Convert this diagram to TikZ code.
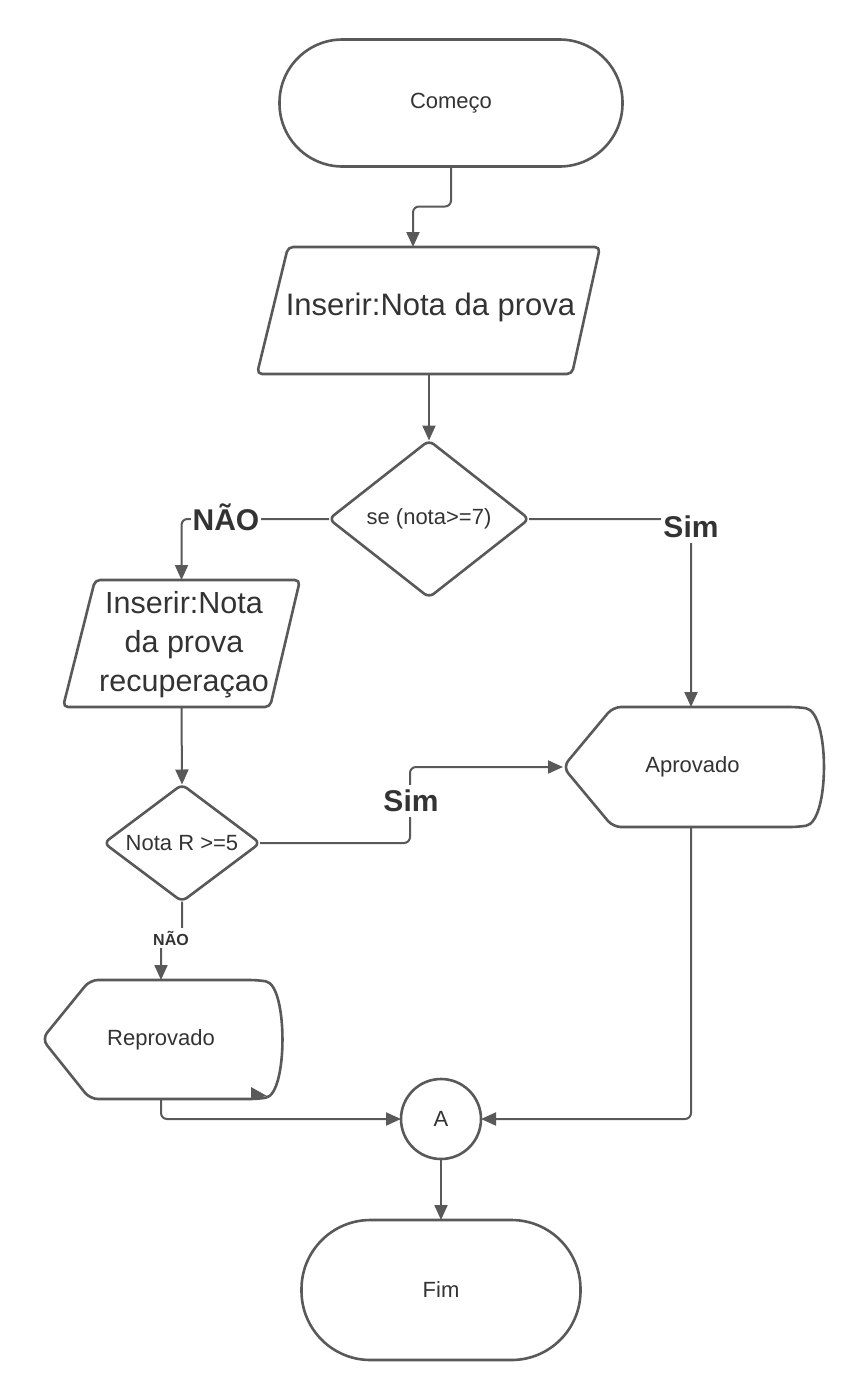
\documentclass[tikz,border=0pt]{standalone}
\usepackage{fontspec}
\setmainfont{Liberation Sans}
\usetikzlibrary{shapes.geometric,arrows.meta}
\definecolor{ln}{HTML}{595959}
\definecolor{tx}{HTML}{333333}
\begin{document}
\begin{tikzpicture}[x=1pt,y=-1pt,
  shp/.style={draw=ln, line width=2.6pt, line join=round},
  box/.style={inner sep=0pt, outer sep=0pt, text=tx, font=\fontsize{22}{26}\selectfont, align=center},
  conn/.style={draw=ln, line width=2pt, rounded corners=6pt},
  arr/.style={conn, -{Triangle[length=15pt,width=13pt]}},
  lbl/.style={fill=white, text=tx, font=\bfseries\fontsize{30}{34}\selectfont, inner xsep=2pt, inner ysep=5pt},
  slbl/.style={fill=white, text=tx, font=\bfseries\fontsize{16}{18}\selectfont, inner sep=3pt}]
\path[use as bounding box] (0,0) rectangle (862,1400);

% terminators and connector
\node[box, shp, rectangle, rounded corners=63pt, minimum width=343pt, minimum height=127pt] (start) at (451,103) {Começo};
\node[box, shp, rectangle, rounded corners=69pt, minimum width=279pt, minimum height=140pt] (fim) at (441,1290) {Fim};
\node[box, shp, circle, minimum size=80pt] (A) at (441,1119) {A};

% input 1
\node[box, minimum width=343pt, minimum height=127pt] (in1) at (429,310.5) {};
\node[box, font=\fontsize{31}{37}\selectfont] (in1t) at (430.5,307) {Inserir:Nota da prova};
\draw[shp, rounded corners=5pt] (288,247) -- (600,247) -- (572,374) -- (257,374) -- cycle;

% decision 1
\node[box, minimum width=200pt, minimum height=157pt] (d1) at (429,519) {se (nota>=7)};
\draw[shp, rounded corners=6pt] (d1.north) -- (d1.east) -- (d1.south) -- (d1.west) -- cycle;

% input 2
\node[box, minimum width=237pt, minimum height=127pt] (in2) at (181.5,643.5) {};
\node[box, font=\fontsize{30.5}{39}\selectfont] (in2t) at (184,645) {Inserir:Nota\\da prova\\recuperaçao};
\draw[shp, rounded corners=5pt] (95,580) -- (300,580) -- (270,707) -- (63,707) -- cycle;

% decision 2
\node[box, minimum width=156pt, minimum height=117pt] (d2) at (182,843) {Nota R >=5};
\draw[shp, rounded corners=6pt] (d2.north) -- (d2.east) -- (d2.south) -- (d2.west) -- cycle;

% display Aprovado
\node[box, minimum width=259pt, minimum height=120pt] (aprov) at (692.5,767) {Aprovado};
\draw[shp, rounded corners=8pt] (563,767) -- (613,707) -- (798,707)
  .. controls (830,712) and (830,822) .. (798,827) -- (613,827) -- cycle;

% display Reprovado
\node[box, minimum width=238pt, minimum height=119pt] (rep) at (161,1039.5) {Reprovado};
\draw[shp, rounded corners=8pt] (42,1039) -- (90,980) -- (258,980)
  .. controls (288,985) and (288,1094) .. (258,1099) -- (90,1099) -- cycle;
\fill[ln] (251,1087) -- (267,1096) -- (251,1099) -- cycle;

% connectors
\draw[arr] (start.south) -- ++(0,40) -| ([xshift=-16pt]in1.north);
\draw[arr] (in1.south) -- (d1.north);
\draw[arr] (d1.west) -| (in2.north);
\node[lbl] (no1) at (226,517) {NÃO};
\draw[arr] (d1.east) -| ([xshift=-1.5pt]aprov.north);
\node[lbl] (sim1) at (691,527) {Sim};
\draw[arr] (in2.south) -- (d2.north);
\draw[arr] (d2.east) -- (410,843) -- (410,767) -- (aprov.west);
\node[lbl] (sim2) at (411,801) {Sim};
\draw[arr] (d2.south) -- ++(0,36) -| (rep.north);
\node[slbl] (no2) at (171,938) {NÃO};
\draw[arr] (rep.south) |- (A.west);
\draw[arr] ([xshift=-1.5pt]aprov.south) |- (A.east);
\draw[arr] (A.south) -- (fim.north);
\end{tikzpicture}
\end{document}
